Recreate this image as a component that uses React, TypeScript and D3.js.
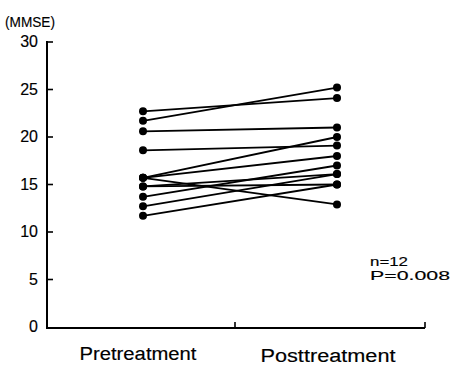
import * as d3 from "d3"
import React from "react"

// categories on the x axis
const groups = ["Pretreatment", "Posttreatment"]

// MMSE score of each patient before and after
const preScores = [22.7, 21.7, 20.6, 18.6, 15.7, 15.7, 15.7, 14.8, 14.8, 13.7, 12.7, 11.7]
const postScores = [24.1, 25.2, 21.0, 19.1, 20.0, 18.0, 12.9, 16.1, 15.0, 17.0, 16.1, 15.0]

const yTicks = [0, 5, 10, 15, 20, 25, 30]
const statLines = ["n=12", "P=0.008"]

const W = 452, H = 365
const axisX = 47, axisY = 328, axisRight = 425

export default function App() {
  const y = d3.scaleLinear().domain([0, 30]).range([327, 42])
  // dots sit a little inside each band
  const xDot = d3.scalePoint<string>().domain(groups).range([143, 337])
  const xBand = d3.scaleBand<string>().domain(groups).range([axisX - 2, axisRight])

  const font = "'Liberation Sans', Arial, Helvetica, sans-serif"

  return (
    <svg width={W} height={H} style={{ position: "absolute", left: 0, top: 0, background: "#fff" }}
      fontFamily={font} stroke="none">
      <g fill="#000" stroke="#000" strokeWidth={0.15}>
        {/* y axis label */}
        <text x={5} y={27} fontSize={15} textLength={50} lengthAdjust="spacingAndGlyphs">(MMSE)</text>
        {yTicks.map(t => (
          <text key={t} x={38} y={y(t) + 5} fontSize={16} textAnchor="end">{t}</text>
        ))}
        {groups.map((g, i) => (
          <text key={g} x={xBand(g)! + xBand.bandwidth() / 2 - 2} y={360 + i * 2} fontSize={18}
            textAnchor="middle" textLength={i === 0 ? 117 : 135} lengthAdjust="spacingAndGlyphs">{g}</text>
        ))}
        {/* statistics */}
        {statLines.map((s, i) => (
          <text key={s} x={370} y={266 + i * 14} fontSize={13} textLength={i === 0 ? 38 : 80}
            lengthAdjust="spacingAndGlyphs">{s}</text>
        ))}
      </g>

      {/* y axis */}
      <line x1={axisX} x2={axisX} y1={y(30) - 1} y2={axisY} stroke="#000" strokeWidth={2} />
      {yTicks.filter(t => t > 0).map(t => (
        <line key={t} x1={axisX} x2={axisX + 6} y1={y(t)} y2={y(t)} stroke="#000" strokeWidth={1.6} />
      ))}

      {/* x axis with upward ticks at the band edges */}
      <line x1={axisX - 1} x2={axisRight} y1={axisY} y2={axisY} stroke="#000" strokeWidth={2} />
      {groups.map(g => (
        <line key={g} x1={xBand(g)! + xBand.bandwidth()} x2={xBand(g)! + xBand.bandwidth()}
          y1={axisY} y2={axisY - 6} stroke="#000" strokeWidth={1.6} />
      ))}

      {/* paired lines */}
      {preScores.map((p, i) => (
        <line key={"l" + i} x1={xDot(groups[0])} y1={y(p)} x2={xDot(groups[1])} y2={y(postScores[i])}
          stroke="#000" strokeWidth={1.8} />
      ))}
      {preScores.map((p, i) => (
        <g key={"d" + i}>
          <circle cx={xDot(groups[0])} cy={y(p)} r={4} fill="#000" />
          <circle cx={xDot(groups[1])} cy={y(postScores[i])} r={4} fill="#000" />
        </g>
      ))}
    </svg>
  )
}
